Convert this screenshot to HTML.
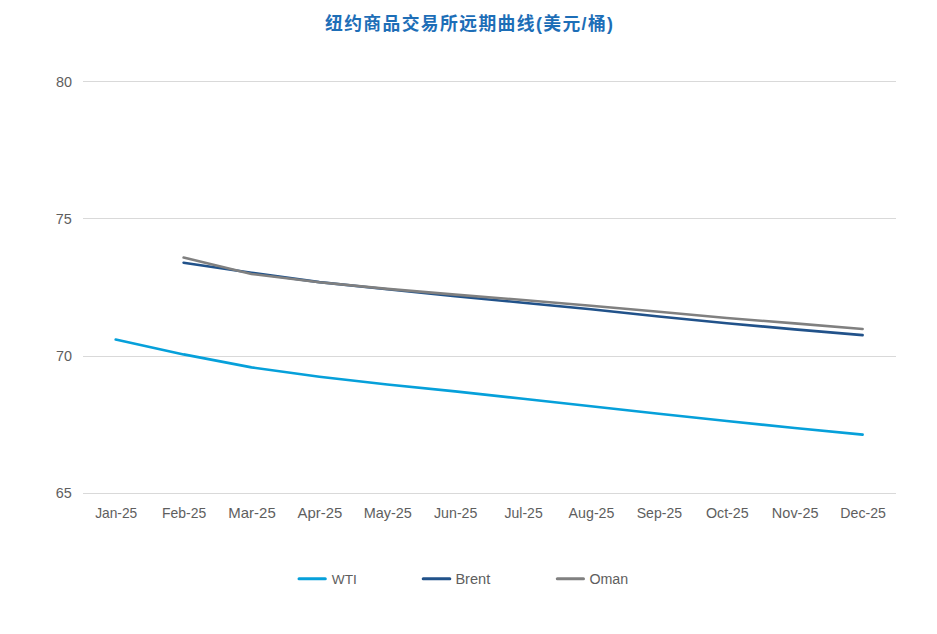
<!DOCTYPE html>
<html><head><meta charset="utf-8"><title>Chart</title>
<style>
html,body{margin:0;padding:0;background:#fff;}
body{width:937px;height:634px;overflow:hidden;font-family:"Liberation Sans",sans-serif;}
svg{display:block;}
</style></head><body>
<svg width="937" height="634" viewBox="0 0 937 634"><rect width="937" height="634" fill="#fff"/><line x1="83.0" x2="896.0" y1="81.5" y2="81.5" stroke="#d9d9d9" stroke-width="1" shape-rendering="crispEdges"/><line x1="83.0" x2="896.0" y1="218.5" y2="218.5" stroke="#d9d9d9" stroke-width="1" shape-rendering="crispEdges"/><line x1="83.0" x2="896.0" y1="356.5" y2="356.5" stroke="#d9d9d9" stroke-width="1" shape-rendering="crispEdges"/><line x1="83.0" x2="896.0" y1="493.5" y2="493.5" stroke="#d9d9d9" stroke-width="1" shape-rendering="crispEdges"/><g font-family="Liberation Sans, sans-serif" font-size="14" fill="#5e5e5e"><text x="72.1" y="86.8" text-anchor="end" font-size="14.4">80</text><text x="71.8" y="223.8" text-anchor="end" font-size="14.4">75</text><text x="71.89999999999999" y="360.7" text-anchor="end" font-size="14.4">70</text><text x="71.69999999999999" y="497.7" text-anchor="end" font-size="14.4">65</text><text transform="translate(116.20,518) scale(0.984,1)" text-anchor="middle">Jan-25</text><text transform="translate(184.10,518) scale(0.995,1)" text-anchor="middle">Feb-25</text><text transform="translate(252.00,518) scale(1.07,1)" text-anchor="middle">Mar-25</text><text transform="translate(319.90,518) scale(1.064,1)" text-anchor="middle">Apr-25</text><text transform="translate(387.80,518) scale(1.034,1)" text-anchor="middle">May-25</text><text transform="translate(455.70,518) scale(1.016,1)" text-anchor="middle">Jun-25</text><text transform="translate(523.60,518) scale(1.0,1)" text-anchor="middle">Jul-25</text><text transform="translate(591.50,518) scale(1.015,1)" text-anchor="middle">Aug-25</text><text transform="translate(659.40,518) scale(1.005,1)" text-anchor="middle">Sep-25</text><text transform="translate(727.30,518) scale(1.02,1)" text-anchor="middle">Oct-25</text><text transform="translate(795.20,518) scale(1.035,1)" text-anchor="middle">Nov-25</text><text transform="translate(863.10,518) scale(1.01,1)" text-anchor="middle">Dec-25</text></g><polyline points="115.70,339.50 183.60,354.40 251.50,367.40 319.40,376.70 387.30,384.50 455.20,391.40 523.10,398.80 591.00,406.20 658.90,413.80 726.80,421.00 794.70,428.00 862.60,434.60" fill="none" stroke="#06a0da" stroke-width="2.6" stroke-linecap="round" stroke-linejoin="round"/><polyline points="183.60,262.70 251.50,272.80 319.40,282.10 387.30,289.20 455.20,296.20 523.10,302.70 591.00,309.30 658.90,316.50 726.80,323.20 794.70,329.40 862.60,335.10" fill="none" stroke="#21528a" stroke-width="2.6" stroke-linecap="round" stroke-linejoin="round"/><polyline points="183.60,257.50 251.50,274.00 319.40,282.30 387.30,288.90 455.20,294.60 523.10,300.00 591.00,305.80 658.90,311.70 726.80,318.00 794.70,323.40 862.60,329.00" fill="none" stroke="#808080" stroke-width="2.6" stroke-linecap="round" stroke-linejoin="round"/><line x1="299" x2="325.3" y1="578.7" y2="578.7" stroke="#06a0da" stroke-width="3" stroke-linecap="round"/><text x="331.8" y="583.7" font-family="Liberation Sans, sans-serif" font-size="13.7" fill="#5e5e5e">WTI</text><line x1="423.2" x2="449.8" y1="578.7" y2="578.7" stroke="#21528a" stroke-width="3" stroke-linecap="round"/><text x="455.4" y="583.7" font-family="Liberation Sans, sans-serif" font-size="14.6" fill="#5e5e5e">Brent</text><line x1="557.3" x2="583.5" y1="578.7" y2="578.7" stroke="#808080" stroke-width="3" stroke-linecap="round"/><text x="589.4" y="583.7" font-family="Liberation Sans, sans-serif" font-size="14.25" fill="#5e5e5e">Oman</text><text x="469" y="29.5" text-anchor="middle" textLength="288" lengthAdjust="spacing" font-family="'Liberation Sans', 'Noto Sans CJK SC', sans-serif" font-size="17.8" font-weight="bold" fill="#1d6eb7">纽约商品交易所远期曲线(美元/桶)</text></svg>
</body></html>
